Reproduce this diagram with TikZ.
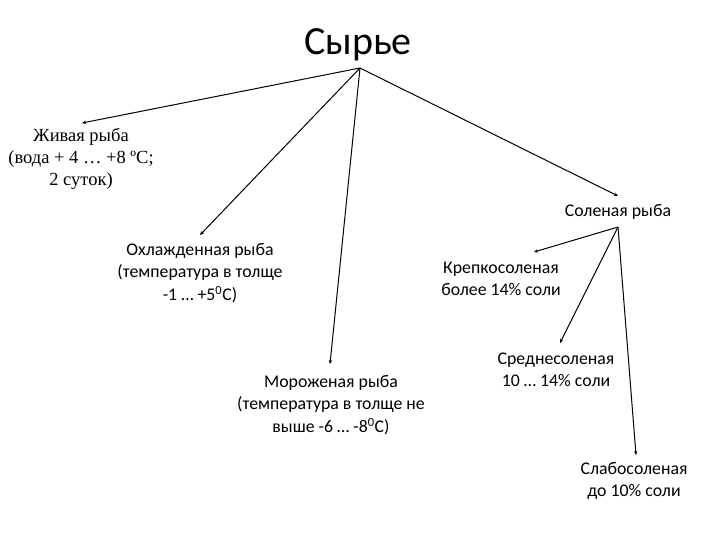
\documentclass[tikz,border=0pt]{standalone}
\usepackage{fontspec}
\setmainfont{Carlito}
\newfontfamily\serifru{Liberation Serif}
\usetikzlibrary{arrows.meta}
\begin{document}
\begin{tikzpicture}[x=1pt,y=-1pt,
  lbl/.style={align=center,font=\fontsize{17.8}{22.5}\selectfont,inner sep=0pt},
  conn/.style={line width=1pt,-{Stealth[length=4pt,width=3.5pt]}}]
\useasboundingbox[fill=white] (0,0) rectangle (720,540);
\node[font=\fontsize{40}{44}\selectfont,inner sep=0pt] (root) at (358,45) {Сырье};
\coordinate (apex) at (360,68);
\node[lbl,font=\serifru\fontsize{18.5}{22}\selectfont] (live) at (81,159) {Живая рыба\\(вода + 4 … +8 ºC;\\2 суток)};
\node[lbl] (cool) at (200,273) {Охлажденная рыба\\(температура в толще\\-1 … +5\textsuperscript{0}С)};
\node[lbl] (froz) at (331,405) {Мороженая рыба\\(температура в толще  не\\выше -6 … -8\textsuperscript{0}С)};
\node[lbl] (salt) at (618,212) {Соленая рыба};
\coordinate (sapex) at (618,227);
\node[lbl] (strong) at (501,279) {Крепкосоленая\\более 14\% соли};
\node[lbl] (mid) at (556,370) {Среднесоленая\\10 … 14\% соли};
\node[lbl] (weak) at (634,481) {Слабосоленая\\до 10\% соли};
\coordinate (eLive) at (82,123);
\coordinate (eCool) at (200,235);
\coordinate (eFroz) at (330,364);
\coordinate (eSalt) at (618,196);
\coordinate (eStrong) at (534,252);
\coordinate (eMid) at (560,343);
\coordinate (eWeak) at (636,455);
\draw[conn] (apex) -- (eLive);
\draw[conn] (apex) -- (eCool);
\draw[conn] (apex) -- (eFroz);
\draw[conn] (apex) -- (eSalt);
\draw[conn] (sapex) -- (eStrong);
\draw[conn] (sapex) -- (eMid);
\draw[conn] (sapex) -- (eWeak);
\end{tikzpicture}
\end{document}
